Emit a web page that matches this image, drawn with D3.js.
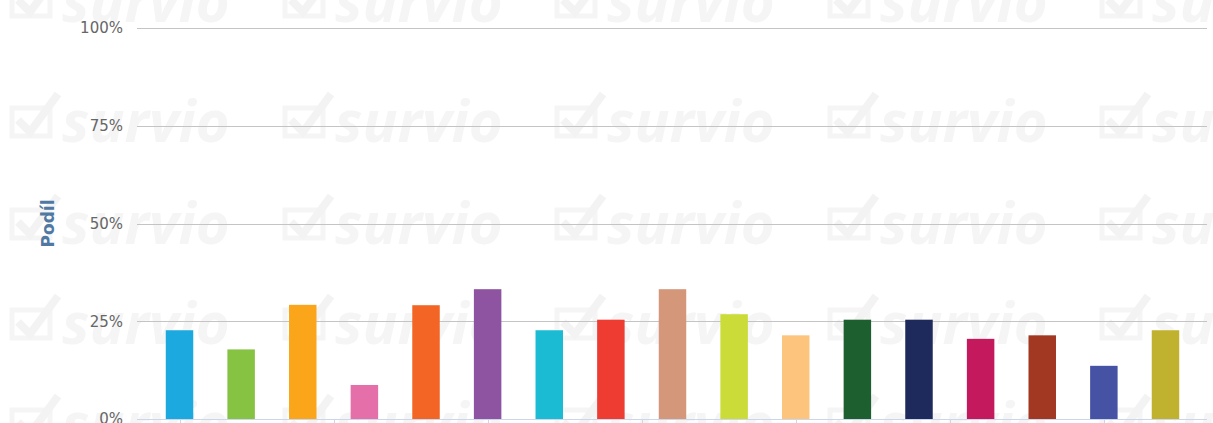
<!DOCTYPE html>
<html><head><meta charset="utf-8">
<script src="https://cdn.jsdelivr.net/npm/d3@7"></script>
<style>html,body{margin:0;padding:0;background:#fff;}svg{display:block;}</style>
</head><body>
<svg id="c" width="1213" height="423"></svg>
<script>
const categories = ["1","2","3","4","5","6","7","8","9","10","11","12","13","14","15","16","17"];
const values = [22.7, 17.8, 29.2, 8.7, 29.1, 33.2, 22.7, 25.4, 33.2, 26.8, 21.4, 25.4, 25.4, 20.5, 21.4, 13.6, 22.7];
const colors = ["#1ba9e0","#87c343","#fba51b","#e56fa9","#f26524","#8e53a1","#1bbcd3","#ee3c33","#d4977a","#cbdc39","#fdc47e","#1e5f2f","#1d2a5b","#c4195d","#a23722","#4653a5","#c0b22f"];
const yTicks = [0, 25, 50, 75, 100];
const yTitle = "Podíl";

const svg = d3.select("#c");

// faint watermark
const wm = svg.append("g").attr("fill", "#f5f5f5");
const wmRows = [22, 142, 244, 344, 444];
const wmCols = [10, 283, 555, 828, 1100];
wmRows.forEach(yy => wmCols.forEach(xx => {
  const g = wm.append("g").attr("transform", `translate(${xx},${yy})`);
  g.append("path").attr("d", "M2,-34 L40,-34 L40,-6 L2,-6 Z").attr("fill","none").attr("stroke","#f5f5f5").attr("stroke-width",5);
  g.append("path").attr("d", "M8,-22 L20,-10 L48,-48").attr("fill","none").attr("stroke","#f3f3f3").attr("stroke-width",8);
  g.append("text").attr("x", 52).attr("y", 0).attr("font-family","Open Sans, sans-serif")
    .attr("font-size", 58).attr("font-style","italic").attr("font-weight","bold").text("survio");
}));

const plotLeft = 137, plotRight = 1207;
const y = d3.scaleLinear().domain([0, 100]).range([419, 28]);
const x = d3.scaleBand().domain(categories).range([148.7, 1196.3]).paddingInner(0.554).paddingOuter(0.277);

// gridlines
svg.append("g").selectAll("line").data(yTicks.filter(d => d > 0)).join("line")
  .attr("x1", plotLeft).attr("x2", plotRight)
  .attr("y1", d => Math.round(y(d)) + 0.5).attr("y2", d => Math.round(y(d)) + 0.5)
  .attr("stroke", "#c4c4c4").attr("stroke-width", 1);

// y axis labels
const yAxis = d3.axisLeft(y).tickValues(yTicks).tickFormat(d => d + "%").tickSize(0).tickPadding(0);
const ya = svg.append("g").attr("transform", `translate(123,0)`).call(yAxis);
ya.select(".domain").remove();
ya.selectAll("text").attr("font-family", "DejaVu Sans, sans-serif").attr("font-size", 15).attr("fill", "#666");

// y title
svg.append("text").attr("transform", `translate(54,${(y(0)+y(100))/2}) rotate(-90)`)
  .attr("text-anchor", "middle").attr("font-family", "DejaVu Sans, sans-serif").attr("font-size", 17)
  .attr("font-weight", "bold").attr("fill", "#4f78a3").text(yTitle);

// bars
svg.append("g").selectAll("rect").data(values).join("rect")
  .attr("x", (d, i) => x(categories[i]))
  .attr("width", x.bandwidth())
  .attr("y", d => y(d))
  .attr("height", d => y(0) - y(d))
  .attr("fill", (d, i) => colors[i]);

// x axis line
svg.append("line").attr("x1", plotLeft).attr("x2", plotRight)
  .attr("y1", Math.round(y(0)) + 0.5).attr("y2", Math.round(y(0)) + 0.5)
  .attr("stroke", "#ccd6eb").attr("stroke-width", 1);

// x ticks every 2.5 categories
const tickPos = [0, 2.5, 5, 7.5, 10, 12.5, 15];
const c0 = x(categories[0]) + x.bandwidth() / 2;
svg.append("g").selectAll("line").data(tickPos).join("line")
  .attr("x1", d => Math.round(c0 + d * x.step()) + 0.5)
  .attr("x2", d => Math.round(c0 + d * x.step()) + 0.5)
  .attr("y1", Math.round(y(0)) + 1).attr("y2", Math.round(y(0)) + 6)
  .attr("stroke", "#ccd6eb").attr("stroke-width", 1);
</script>
</body></html>
